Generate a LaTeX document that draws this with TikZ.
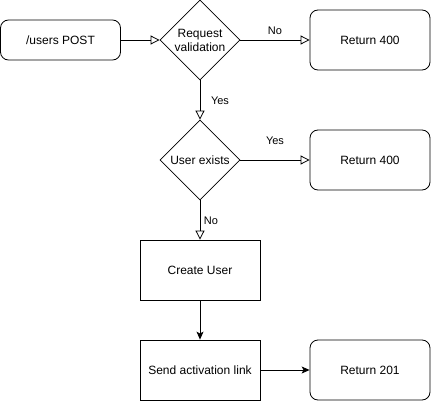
\documentclass[tikz,border=0pt]{standalone}
\usepackage{fontspec}
\setmainfont{Liberation Sans}
\usetikzlibrary{shapes.geometric, arrows.meta}
\definecolor{FlowLine}{HTML}{000000}
\definecolor{FlowFill}{HTML}{FFFFFF}
\tikzset{
    endbox/.style={draw=FlowLine, fill=FlowFill, line width=0.8pt, rounded corners=8pt,
        minimum width=120pt, minimum height=60pt, inner sep=0pt,
        font=\fontsize{12}{14}\selectfont},
    stepbox/.style={draw=FlowLine, fill=FlowFill, line width=0.8pt,
        minimum width=120pt, minimum height=60pt, inner sep=0pt,
        font=\fontsize{12}{14}\selectfont},
    decide/.style={draw=FlowLine, fill=FlowFill, line width=0.8pt, diamond, aspect=1,
        minimum width=80pt, minimum height=80pt, inner sep=0pt, align=center,
        font=\fontsize{12}{14}\selectfont},
    lbl/.style={inner sep=0pt, font=\fontsize{11}{13}\selectfont},
    openflow/.style={draw=FlowLine, line width=0.8pt,
        -{Triangle[open, length=9pt, width=9pt]}},
    fillflow/.style={draw=FlowLine, line width=0.8pt,
        -{Stealth[length=8pt, width=7pt, inset=2pt]}}
}
\begin{document}
\begin{tikzpicture}[x=1pt, y=-1pt]
    % =========================================
    % 1. Canvas
    % =========================================
    \useasboundingbox (0,0) rectangle (431,401);

    % =========================================
    % 2. Nodes
    % =========================================
    \node[endbox, minimum height=40pt] (post) at (60.5,40) {/users POST};
    \node[decide] (valid) at (200,40) {Request\\validation};
    \node[endbox] (bad) at (370,40) {Return 400};

    \node[decide] (exists) at (200,160) {User exists};
    \node[endbox] (dup) at (370,160) {Return 400};

    \node[stepbox] (create) at (200,270) {Create User};
    \node[stepbox] (send) at (200,370) {Send activation link};
    \node[endbox] (ok) at (370,370) {Return 201};

    % =========================================
    % 3. Connectors
    % =========================================
    \draw[openflow] (post) -- (valid);
    \draw[openflow] (valid) -- (bad);
    \draw[openflow] (valid) -- (exists);
    \draw[openflow] (exists) -- (dup);
    \draw[openflow] (exists) -- (create);
    \draw[fillflow] (create) -- (send);
    \draw[fillflow] (send) -- (ok);

    % labels
    \node[lbl] (lbad) at (275,31) {No};
    \node[lbl] (lvalid) at (220,101) {Yes};
    \node[lbl] (ldup) at (275,141) {Yes};
    \node[lbl] (lnew) at (211,221) {No};
\end{tikzpicture}
\end{document}
